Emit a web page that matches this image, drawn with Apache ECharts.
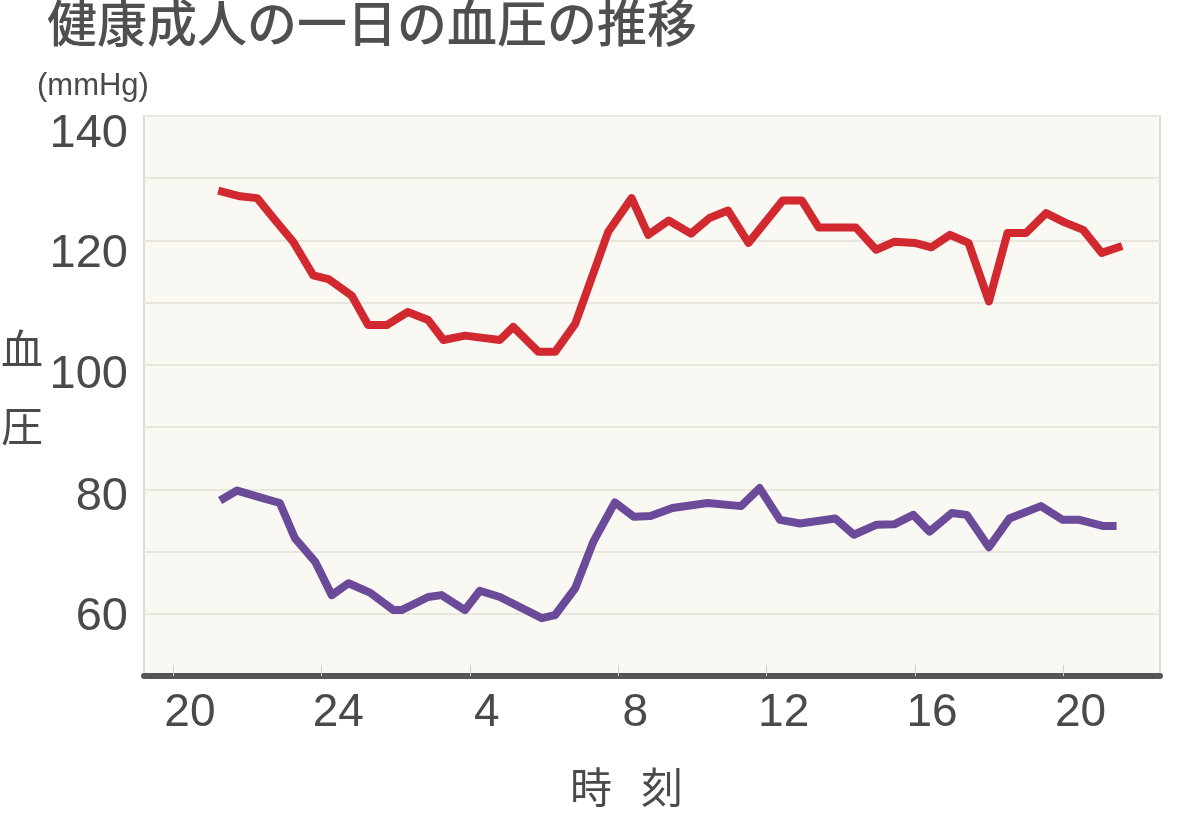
<!DOCTYPE html>
<html>
<head>
<meta charset="utf-8">
<script src="https://cdn.jsdelivr.net/npm/echarts@6/dist/echarts.min.js"></script>
<style>
  html, body { margin: 0; padding: 0; background: #fff; }
  #chart { width: 1200px; height: 840px; }
</style>
</head>
<body>
<div id="chart"></div>
<script>
// time in hours from 20:00 of day 1 (24 = midnight, 44 = 20:00 next day)
var sysHours = [21.22, 21.81, 22.27, 22.75, 23.24, 23.78, 24.19, 24.82, 25.26, 25.76, 26.33, 26.88, 27.29, 27.87, 28.81, 29.17, 29.85, 30.30, 30.84, 31.73, 32.36, 32.81, 33.36, 33.96, 34.46, 34.96, 35.51, 36.43, 36.95, 37.40, 38.40, 38.95, 39.45, 39.99, 40.44, 40.94, 41.44, 41.99, 42.49, 42.99, 43.53, 44.03, 44.53, 45.03, 45.58];
var sysValues = [128.0, 127.1, 126.8, 123.3, 119.8, 114.4, 113.8, 111.1, 106.4, 106.4, 108.5, 107.2, 104.0, 104.7, 104.0, 106.1, 102.1, 102.1, 106.6, 121.4, 126.8, 120.9, 123.2, 121.1, 123.6, 124.8, 119.6, 126.4, 126.4, 122.1, 122.1, 118.5, 119.8, 119.6, 118.9, 120.9, 119.6, 110.2, 121.2, 121.2, 124.4, 122.9, 121.7, 118.0, 119.1];

var diaHours = [21.27, 21.73, 22.35, 22.88, 23.29, 23.83, 24.28, 24.73, 25.31, 25.94, 26.16, 26.88, 27.24, 27.87, 28.27, 28.81, 29.94, 30.30, 30.84, 31.33, 31.91, 32.42, 32.87, 33.46, 34.41, 35.31, 35.81, 36.36, 36.90, 37.85, 38.35, 38.95, 39.45, 39.95, 40.39, 40.99, 41.39, 41.99, 42.54, 43.39, 43.98, 44.43, 45.08, 45.43];
var diaValues = [78.2, 79.8, 78.7, 77.8, 72.1, 68.4, 63.0, 64.9, 63.4, 60.6, 60.6, 62.7, 63.0, 60.6, 63.7, 62.7, 59.3, 59.8, 64.1, 71.6, 77.9, 75.6, 75.7, 77.0, 77.8, 77.3, 80.2, 75.1, 74.5, 75.3, 72.7, 74.3, 74.4, 75.9, 73.2, 76.2, 75.9, 70.7, 75.3, 77.3, 75.1, 75.1, 74.1, 74.1];

var xTicks = [20, 24, 28, 32, 36, 40, 44];
var yLabels = [60, 80, 100, 120, 140];

var textColor = '#4a4a4a';
var font = '"Liberation Sans", Arial, sans-serif';
var cjk = '"Noto Sans CJK JP", sans-serif';

function pairs(xs, ys) {
  return xs.map(function (x, i) { return [x, ys[i]]; });
}

// per-label nudge so the y labels sit like in the original
var yShift = { 140: 18, 120: 14, 100: 10, 80: 8, 60: 3 };
var yRich = {};
yLabels.forEach(function (v) {
  yRich['v' + v] = {
    fontSize: 47, fontFamily: font, color: textColor,
    padding: [yShift[v] * 2, 0, 0, 0]
  };
});

var option = {
  backgroundColor: '#fff',
  animation: false,
  grid: {
    left: 144, right: 40, top: 116, bottom: 164,
    show: true,
    backgroundColor: '#f9f8f2',
    borderColor: '#dedbd3',
    borderWidth: 2
  },
  xAxis: {
    type: 'value',
    min: 19.22,
    max: 46.6,
    axisLine: { show: true, lineStyle: { color: '#555', width: 6 } },
    axisTick: {
      show: true, inside: true, length: 11,
      customValues: xTicks,
      lineStyle: { color: '#d2cfc7', width: 1 }
    },
    splitLine: { show: false },
    axisLabel: {
      customValues: xTicks,
      margin: 14,
      fontSize: 46,
      fontFamily: font,
      color: textColor,
      padding: [0, 0, 0, 34],
      formatter: function (v) { return v === 24 ? '24' : String(v % 24); }
    }
  },
  yAxis: {
    type: 'value',
    min: 50,
    max: 140,
    interval: 10,
    axisLine: { show: false },
    axisTick: { show: false },
    splitLine: { show: true, lineStyle: { color: '#e9e6de', width: 2 } },
    axisLabel: {
      margin: 16,
      rich: yRich,
      formatter: function (v) {
        return yLabels.indexOf(v) >= 0 ? '{v' + v + '|' + v + '}' : '';
      }
    }
  },
  graphic: [
    { type: 'text', x: 47, y: 23, style: { text: '健康成人の一日の血圧の推移', font: '500 50px ' + cjk, fill: '#4f4f4f', textVerticalAlign: 'middle', verticalAlign: 'middle' } },
    { type: 'text', x: 37, y: 86, style: { text: '(mmHg)', font: '31px ' + font, fill: textColor, textVerticalAlign: 'middle', verticalAlign: 'middle' } },
    { type: 'text', x: 22, y: 349, style: { text: '血', font: '42px ' + cjk, fill: textColor, textAlign: 'center', align: 'center', textVerticalAlign: 'middle', verticalAlign: 'middle' } },
    { type: 'text', x: 22, y: 426, style: { text: '圧', font: '42px ' + cjk, fill: textColor, textAlign: 'center', align: 'center', textVerticalAlign: 'middle', verticalAlign: 'middle' } },
    { type: 'text', x: 591, y: 787, style: { text: '時', font: '42px ' + cjk, fill: textColor, textAlign: 'center', align: 'center', textVerticalAlign: 'middle', verticalAlign: 'middle' } },
    { type: 'text', x: 662, y: 787, style: { text: '刻', font: '42px ' + cjk, fill: textColor, textAlign: 'center', align: 'center', textVerticalAlign: 'middle', verticalAlign: 'middle' } }
  ],
  series: [
    {
      name: '最高血圧',
      type: 'line',
      data: pairs(sysHours, sysValues),
      showSymbol: false,
      lineStyle: { color: '#d2282f', width: 8, join: 'round' },
      z: 3
    },
    {
      name: '最低血圧',
      type: 'line',
      data: pairs(diaHours, diaValues),
      showSymbol: false,
      lineStyle: { color: '#6b4a9a', width: 8, join: 'round' },
      z: 3
    }
  ]
};

var chart = echarts.init(document.getElementById('chart'));
chart.setOption(option);
</script>
</body>
</html>
